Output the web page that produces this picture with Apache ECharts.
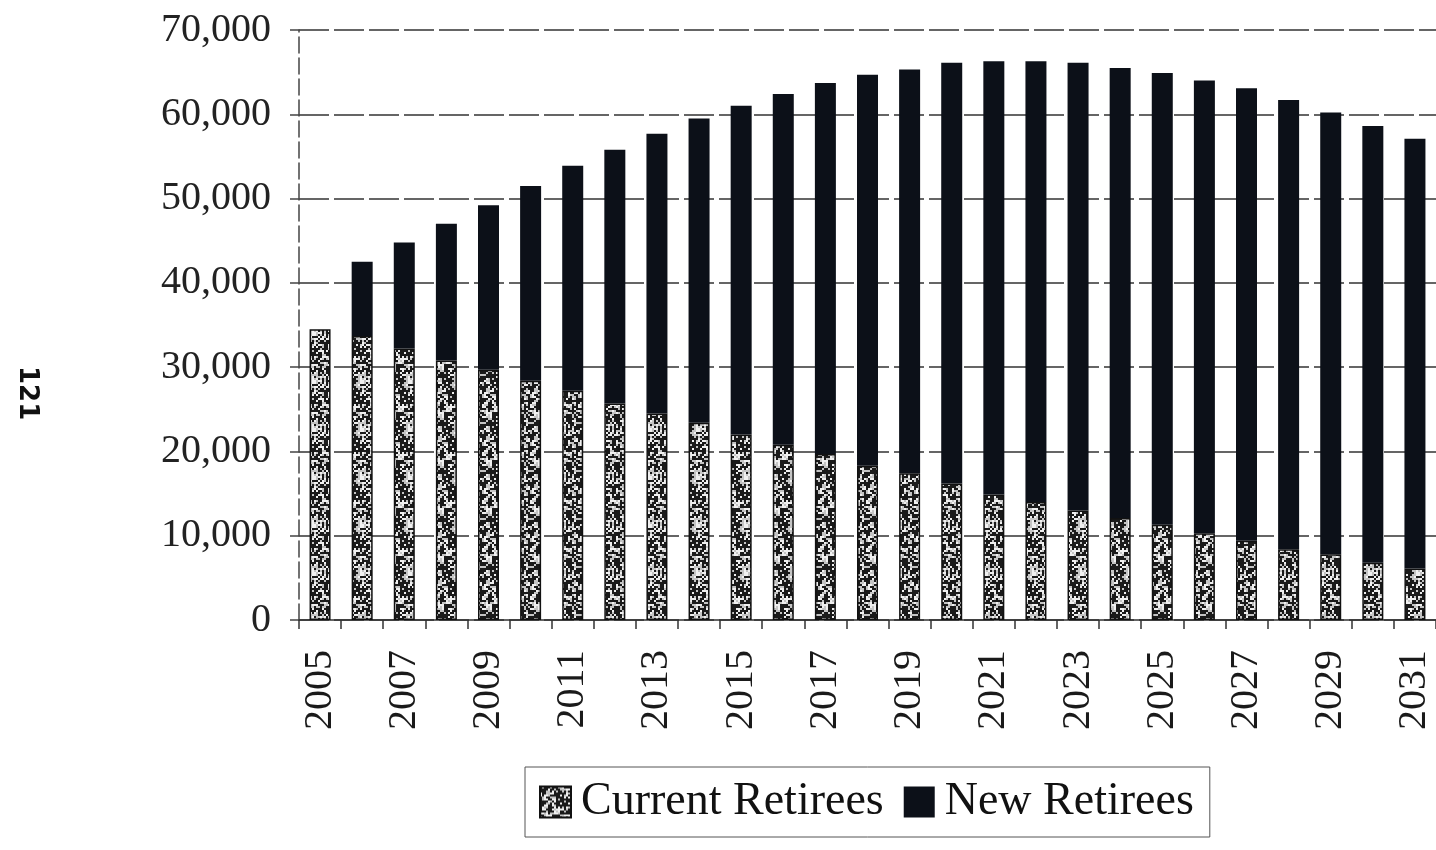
<!DOCTYPE html>
<html>
<head>
<meta charset="utf-8">
<script src="https://cdn.jsdelivr.net/npm/echarts@6/dist/echarts.min.js"></script>
<style>
html,body{margin:0;padding:0;background:#fff;}
#chart{width:1436px;height:850px;}
</style>
</head>
<body>
<div id="chart"></div>
<script>
// ---- data ----
const years = ['2005','2006','2007','2008','2009','2010','2011','2012','2013','2014','2015','2016','2017','2018','2019','2020','2021','2022','2023','2024','2025','2026','2027','2028','2029','2030','2031'];
const currentRetirees = [34500, 33700, 32200, 30800, 29700, 28400, 27200, 25700, 24500, 23400, 22000, 20800, 19700, 18300, 17400, 16200, 14900, 14000, 13000, 12100, 11300, 10300, 9400, 8400, 7800, 6800, 6100];
const newRetirees = [0, 8800, 12600, 16200, 19500, 23100, 26700, 30100, 33200, 36100, 39000, 41600, 44000, 46400, 47900, 49900, 51400, 52300, 53100, 53400, 53600, 53700, 53700, 53300, 52400, 51800, 51000];
const yTicks = [0, 10000, 20000, 30000, 40000, 50000, 60000, 70000];
const seriesNames = ['Current Retirees', 'New Retirees'];

// ---- stipple texture (deterministic, decorative only) ----
function makeStipple() {
  const c = document.createElement('canvas');
  c.width = 48; c.height = 48;
  const ctx = c.getContext('2d');
  ctx.fillStyle = '#1a1a1a';
  ctx.fillRect(0, 0, 48, 48);
  let s = 12345;
  function next() { s = (s * 1103515245 + 12345) & 0x7fffffff; return s / 0x7fffffff; }
  for (let y = 0; y < 48; y += 2) {
    for (let x = 0; x < 48; x += 2) {
      if (next() < 0.45) {
        ctx.fillStyle = next() < 0.5 ? '#f0f0f0' : '#c4c4c4';
        ctx.fillRect(x, y, 2, 2);
      }
    }
  }
  return c;
}
const stipple = makeStipple();

const chart = echarts.init(document.getElementById('chart'), null, {renderer: 'canvas'});
const serif = '"Liberation Serif", "Times New Roman", serif';

chart.setOption({
  animation: false,
  backgroundColor: '#ffffff',
  grid: {left: 299, right: 0, top: 30, bottom: 230, containLabel: false},
  legend: {
    data: seriesNames,
    left: 525,
    top: 767,
    orient: 'horizontal',
    borderColor: '#555',
    borderWidth: 1,
    padding: [12, 16, 12, 14],
    itemGap: 20,
    itemWidth: 31,
    itemHeight: 31,
    icon: 'rect',
    textStyle: {fontFamily: serif, fontSize: 46, color: '#111', padding: [0, 0, 0, 5]}
  },
  xAxis: {
    type: 'category',
    data: years,
    boundaryGap: true,
    axisLine: {show: true, lineStyle: {color: '#333', width: 1.5}},
    axisTick: {show: true, interval: 0, length: 9, lineStyle: {color: '#333', width: 1.5}},
    axisLabel: {
      interval: 1,
      rotate: 90,
      margin: 30,
      fontFamily: serif,
      fontSize: 40,
      color: '#1a1a1a'
    },
    splitLine: {show: false}
  },
  yAxis: {
    type: 'value',
    min: yTicks[0],
    max: yTicks[yTicks.length - 1],
    interval: yTicks[1] - yTicks[0],
    axisLine: {show: true, lineStyle: {color: '#444', width: 1.5, type: [16, 5]}},
    axisTick: {show: true, length: 9, lineStyle: {color: '#444', width: 1.5}},
    axisLabel: {
      margin: 28,
      fontFamily: serif,
      fontSize: 40,
      color: '#222',
      formatter: v => v.toLocaleString('en-US')
    },
    splitLine: {show: true, lineStyle: {color: '#333', width: 1.5, type: [30, 5]}}
  },
  series: [
    {
      name: seriesNames[0],
      type: 'bar',
      stack: 'total',
      data: currentRetirees,
      barWidth: 21,
      itemStyle: {
        color: {image: stipple, repeat: 'repeat'},
        borderColor: '#111',
        borderWidth: 1.5
      }
    },
    {
      name: seriesNames[1],
      type: 'bar',
      stack: 'total',
      data: newRetirees,
      barWidth: 21,
      itemStyle: {color: '#0c1018'}
    }
  ],
  graphic: [
    {
      type: 'text',
      x: 40,
      y: 366,
      rotation: -Math.PI / 2,
      style: {
        text: '121',
        fontFamily: '"DejaVu Sans", sans-serif',
        fontWeight: 'bold',
        fontSize: 26,
        fill: '#111'
      }
    }
  ]
});
</script>
</body>
</html>
